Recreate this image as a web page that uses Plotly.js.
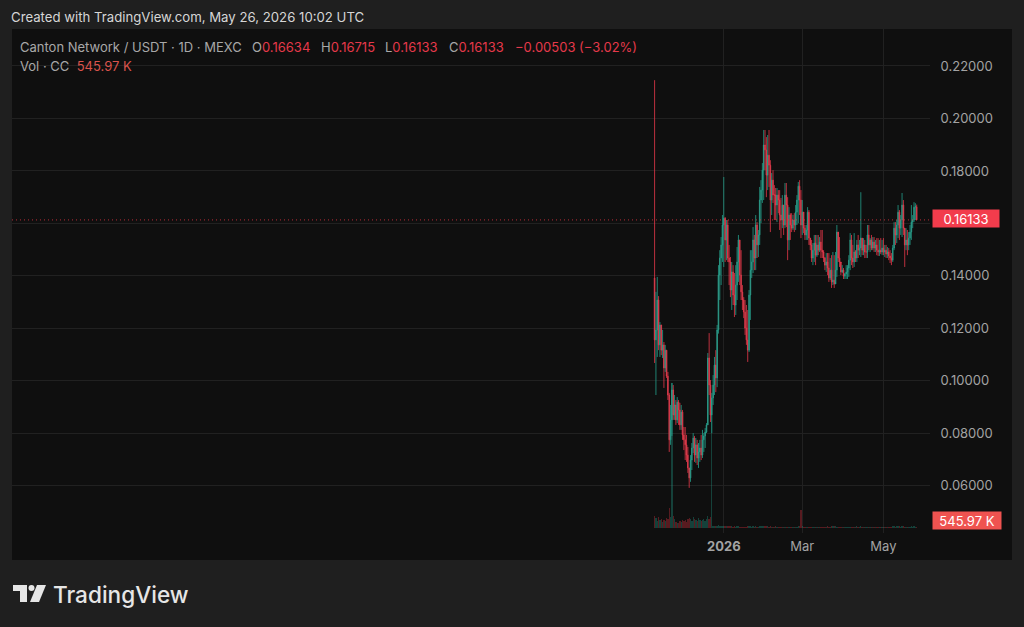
<!DOCTYPE html>
<html>
<head>
<meta charset="utf-8">
<script src="https://cdn.plot.ly/plotly-3.0.1.min.js"></script>
<style>
  html, body { margin: 0; padding: 0; background: #1f1f1f; }
  #chart { width: 1024px; height: 627px; }
</style>
</head>
<body>
<div id="chart"></div>
<script>
// daily candles, CC/USDT on MEXC
const firstDay = '2025-11-10';

const opens = [
  .1392,.1156,.1194,.1308,.1137,.1213,.1117,.1137,.1049,.1117,
  .1018,.0946,.0775,.0851,.0965,.0870,.0908,.0851,.0919,.0889,
  .0832,.0881,.0794,.0775,.0756,.0717,.0668,.0630,.0698,.0744,
  .0782,.0717,.0756,.0706,.0729,.0744,.0717,.0775,.0790,.0805,
  .0832,.1087,.0984,.0870,.0935,.0984,.1060,.1011,.1194,.1403,
  .1468,.1518,.1594,.1620,.1537,.1594,.1468,.1453,.1346,.1415,
  .1327,.1289,.1365,.1453,.1537,.1403,.1339,.1308,.1262,.1201,
  .1156,.1117,.1327,.1422,.1453,.1537,.1468,.1594,.1518,.1556,
  .1689,.1727,.1803,.1899,.1880,.1784,.1860,.1822,.1689,.1765,
  .1708,.1708,.1670,.1708,.1689,.1632,.1613,.1670,.1594,.1708,
  .1670,.1537,.1632,.1594,.1582,.1613,.1594,.1643,.1689,.1742,
  .1689,.1594,.1643,.1582,.1556,.1575,.1643,.1544,.1518,.1468,
  .1498,.1525,.1479,.1518,.1498,.1529,.1498,.1491,.1468,.1441,
  .1453,.1430,.1392,.1422,.1377,.1384,.1369,.1422,.1567,.1468,
  .1453,.1415,.1422,.1399,.1407,.1415,.1430,.1460,.1537,.1468,
  .1453,.1491,.1468,.1518,.1498,.1506,.1544,.1498,.1518,.1491,
  .1491,.1556,.1518,.1537,.1506,.1529,.1506,.1518,.1498,.1491,
  .1498,.1491,.1506,.1491,.1498,.1483,.1491,.1476,.1468,.1460,
  .1506,.1582,.1556,.1594,.1643,.1582,.1613,.1670,.1582,.1518,
  .1537,.1518,.1544,.1567,.1605,.1613,.16634,.16634
];
const highs = [
  .2146,.1339,.1396,.1323,.1224,.1213,.1194,.1148,.1137,.1117,
  .1034,.0954,.0908,.0992,.0984,.0946,.0927,.0938,.0927,.0916,
  .0908,.0889,.0824,.0824,.0794,.0748,.0660,.0717,.0763,.0801,
  .0790,.0782,.0775,.0763,.0775,.0794,.0813,.0801,.0820,.0839,
  .1106,.1182,.1003,.0954,.1022,.1091,.1117,.1213,.1441,.1498,
  .1548,.1632,.1777,.1624,.1613,.1613,.1518,.1472,.1453,.1441,
  .1411,.1441,.1510,.1556,.1537,.1498,.1365,.1319,.1308,.1289,
  .1270,.1346,.1498,.1498,.1586,.1556,.1632,.1605,.1575,.1739,
  .1765,.1830,.1956,.1956,.1929,.1937,.1956,.1841,.1792,.1803,
  .1746,.1735,.1735,.1727,.1727,.1697,.1708,.1670,.1754,.1754,
  .1700,.1662,.1639,.1639,.1632,.1639,.1670,.1708,.1758,.1765,
  .1727,.1689,.1639,.1594,.1594,.1662,.1651,.1544,.1537,.1525,
  .1556,.1556,.1556,.1556,.1548,.1575,.1575,.1498,.1472,.1487,
  .1487,.1487,.1468,.1479,.1491,.1479,.1491,.1594,.1556,.1548,
  .1449,.1441,.1430,.1411,.1441,.1441,.1479,.1563,.1556,.1518,
  .1563,.1498,.1537,.1556,.1537,.1719,.1544,.1544,.1537,.1518,
  .1594,.1594,.1544,.1556,.1548,.1548,.1537,.1544,.1544,.1537,
  .1544,.1537,.1544,.1518,.1518,.1510,.1506,.1498,.1487,.1518,
  .1605,.1605,.1613,.1670,.1651,.1632,.1716,.1689,.1575,.1582,
  .1575,.1567,.1594,.1670,.1632,.1681,.1677,.16715
];
const lows = [
  .1068,.0946,.1091,.1117,.1091,.1098,.1087,.0973,.1034,.1011,
  .0927,.0729,.0756,.0790,.0851,.0851,.0832,.0839,.0832,.0813,
  .0813,.0775,.0736,.0698,.0691,.0649,.0592,.0615,.0660,.0725,
  .0691,.0687,.0679,.0668,.0691,.0698,.0706,.0729,.0744,.0801,
  .0832,.0946,.0843,.0801,.0908,.0946,.0957,.0976,.1180,.1308,
  .1365,.1453,.1434,.1453,.1460,.1453,.1365,.1319,.1270,.1289,
  .1243,.1251,.1308,.1377,.1365,.1308,.1270,.1239,.1175,.1137,
  .1072,.1110,.1232,.1392,.1411,.1422,.1422,.1468,.1472,.1518,
  .1601,.1678,.1689,.1803,.1700,.1727,.1739,.1567,.1632,.1678,
  .1613,.1613,.1605,.1639,.1575,.1544,.1582,.1556,.1582,.1586,
  .1460,.1498,.1537,.1567,.1575,.1567,.1575,.1594,.1601,.1632,
  .1544,.1556,.1563,.1537,.1537,.1537,.1518,.1498,.1453,.1441,
  .1453,.1441,.1472,.1479,.1491,.1468,.1468,.1453,.1422,.1415,
  .1403,.1377,.1384,.1354,.1365,.1354,.1377,.1396,.1453,.1434,
  .1403,.1411,.1388,.1388,.1388,.1388,.1396,.1422,.1441,.1430,
  .1434,.1453,.1453,.1468,.1479,.1472,.1479,.1479,.1468,.1468,
  .1468,.1498,.1491,.1498,.1498,.1491,.1491,.1479,.1476,.1476,
  .1483,.1479,.1479,.1472,.1468,.1468,.1460,.1449,.1441,.1453,
  .1498,.1518,.1525,.1544,.1537,.1556,.1548,.1556,.1434,.1498,
  .1479,.1498,.1518,.1537,.1582,.1605,.1613,.16133
];
const closes = [
  .1156,.1194,.1308,.1137,.1213,.1117,.1137,.1049,.1117,.1018,
  .0946,.0775,.0851,.0965,.0870,.0908,.0851,.0919,.0889,.0832,
  .0881,.0794,.0775,.0756,.0717,.0668,.0630,.0698,.0744,.0782,
  .0717,.0756,.0706,.0729,.0744,.0717,.0775,.0790,.0805,.0832,
  .1087,.0984,.0870,.0935,.0984,.1060,.1011,.1194,.1403,.1468,
  .1518,.1594,.1620,.1537,.1594,.1468,.1453,.1346,.1415,.1327,
  .1289,.1365,.1453,.1537,.1403,.1339,.1308,.1262,.1201,.1156,
  .1117,.1327,.1422,.1453,.1537,.1468,.1594,.1518,.1556,.1689,
  .1727,.1803,.1899,.1880,.1784,.1860,.1822,.1689,.1765,.1708,
  .1708,.1670,.1708,.1689,.1632,.1613,.1670,.1594,.1708,.1670,
  .1537,.1632,.1594,.1582,.1613,.1594,.1643,.1689,.1742,.1689,
  .1594,.1643,.1582,.1556,.1575,.1643,.1544,.1518,.1468,.1498,
  .1525,.1479,.1518,.1498,.1529,.1498,.1491,.1468,.1441,.1453,
  .1430,.1392,.1422,.1377,.1384,.1369,.1422,.1567,.1468,.1453,
  .1415,.1422,.1399,.1407,.1415,.1430,.1460,.1537,.1468,.1453,
  .1491,.1468,.1518,.1498,.1506,.1544,.1498,.1518,.1491,.1491,
  .1556,.1518,.1537,.1506,.1529,.1506,.1518,.1498,.1491,.1498,
  .1491,.1506,.1491,.1498,.1483,.1491,.1476,.1468,.1460,.1506,
  .1582,.1556,.1594,.1643,.1582,.1613,.1670,.1582,.1518,.1537,
  .1518,.1544,.1567,.1605,.1613,.1662,.16634,.16133
];
// volume in thousands
const volumes = [
  4300,3600,2500,4000,2900,3300,2200,3000,2500,3600,
  3300,7300,4000,52700,4400,3300,2200,2000,1800,2500,
  2200,2900,2500,2900,2200,3300,3600,3300,2500,4000,
  3300,2900,2500,3600,2900,2500,2900,3300,2500,3300,
  4400,3300,4000,46500,900,800,700,800,1000,600,
  700,900,800,700,600,800,900,700,600,500,
  600,500,600,700,500,400,500,400,400,500,
  600,800,600,500,700,500,600,400,500,600,
  900,800,700,900,600,700,500,600,500,400,
  500,600,400,500,400,500,400,500,400,500,
  400,500,400,300,400,300,400,500,600,900,
  6500,900,500,400,300,400,500,400,300,400,
  300,400,300,400,500,300,400,300,500,400,
  600,500,400,600,700,600,800,500,400,300,
  400,300,400,300,400,500,400,300,500,400,
  300,400,600,500,400,600,300,400,300,400,
  500,400,300,400,300,400,300,400,300,400,
  300,400,300,400,300,400,300,400,500,600,
  700,500,600,800,600,500,900,600,500,400,
  500,400,500,700,500,600,500,545.97
];

const yTicks = [0.06, 0.08, 0.10, 0.12, 0.14, 0.16, 0.18, 0.20, 0.22];
// 0.16 sits behind the last price tag in the picture, only its grid line shows
const yTickText = ['0.06000', '0.08000', '0.10000', '0.12000', '0.14000', '', '0.18000', '0.20000', '0.22000'];
const xTickDates = ['2026-01-01', '2026-03-01', '2026-05-01'];
const xTickText = ['<b>2026</b>', 'Mar', 'May'];

const days = closes.map(function(c, i) {
    const d = new Date(firstDay + 'T00:00:00Z');
    d.setUTCDate(d.getUTCDate() + i);
    return d.toISOString().slice(0, 10);
});

const UP = '#24a08c';
const DOWN = '#e8394a';
const last = closes.length - 1;

// plot box inside the 1024x627 page
const L = 12, R = 930, T = 29, B = 533;
function px(x) { return (x - L) / (R - L); }
function py(y) { return (B - y) / (B - T); }

function label(x, y, text, size, color, extra) {
    return Object.assign({
        xref: 'paper', yref: 'paper', x: px(x), y: py(y),
        xanchor: 'left', yanchor: 'middle', showarrow: false,
        text: text, font: {family: 'Inter, Roboto, sans-serif', size: size, color: color}
    }, extra || {});
}

function box(x0, y0, x1, y1, color) {
    return {
        type: 'rect', xref: 'paper', yref: 'paper', layer: 'below',
        x0: px(x0), x1: px(x1), y0: py(y0), y1: py(y1),
        fillcolor: color, line: {width: 0}
    };
}

function logoPath(points) {
    return {
        type: 'path', xref: 'paper', yref: 'paper', fillcolor: '#e6e6e6', line: {width: 0},
        path: 'M' + points.map(function(p) { return px(p[0]) + ',' + py(p[1]); }).join('L') + 'Z'
    };
}

function redText(s) { return '<span style="color:#e5394a">' + s + '</span>'; }

const traces = [
    {
        type: 'candlestick', x: days, open: opens, high: highs, low: lows, close: closes,
        increasing: {line: {color: UP, width: 0.8}, fillcolor: '#6f8f8a'},
        decreasing: {line: {color: DOWN, width: 0.8}, fillcolor: '#b0606a'},
        whiskerwidth: 0, hoverinfo: 'skip', showlegend: false
    },
    {
        type: 'bar', x: days, y: volumes, yaxis: 'y2', showlegend: false, hoverinfo: 'skip',
        marker: {
            color: closes.map(function(c, i) {
                return c >= opens[i] ? 'rgba(34,171,148,0.32)' : 'rgba(242,54,69,0.32)';
            }),
            line: {width: 0}
        }
    }
];

const layout = {
    width: 1024, height: 627,
    margin: {l: L, r: 1024 - R, t: T, b: 627 - B, pad: 0},
    paper_bgcolor: '#1f1f1f',
    plot_bgcolor: 'rgba(0,0,0,0)',
    bargap: 0,
    xaxis: {
        type: 'date',
        range: ['2024-07-15', '2026-06-05'],
        rangeslider: {visible: false},
        tickmode: 'array', tickvals: xTickDates, ticktext: xTickText,
        tickfont: {family: 'Inter, Roboto, sans-serif', size: 13, color: '#a3a3a3'},
        ticks: 'outside', ticklen: 1, tickcolor: 'rgba(0,0,0,0)',
        showgrid: true, gridcolor: '#212121', gridwidth: 1,
        zeroline: false, showline: false, fixedrange: true
    },
    yaxis: {
        side: 'right',
        range: [0.0420, 0.2341],
        tickmode: 'array', tickvals: yTicks, ticktext: yTickText,
        tickfont: {family: 'Inter, Roboto, sans-serif', size: 13, color: '#a3a3a3'},
        ticks: 'outside', ticklen: 7, tickcolor: 'rgba(0,0,0,0)',
        showgrid: true, gridcolor: '#212121', gridwidth: 1,
        zeroline: false, showline: false, fixedrange: true
    },
    yaxis2: {
        overlaying: 'y', side: 'right', visible: false,
        range: [-1820, 181636], fixedrange: true
    },
    shapes: [
        box(12, 29, 1012, 560, '#0f0f0f'),
        {
            type: 'line', xref: 'paper', yref: 'y', x0: 0, x1: 1,
            y0: closes[last], y1: closes[last],
            line: {color: 'rgba(242,54,69,0.75)', width: 1, dash: '1px,3px'}
        },
        logoPath([[13, 585], [27, 585], [27, 602], [20, 602], [20, 591], [13, 591]]),
        {
            type: 'circle', xref: 'paper', yref: 'paper', fillcolor: '#e6e6e6', line: {width: 0},
            x0: px(28.5), x1: px(34.5), y0: py(591), y1: py(585)
        },
        logoPath([[37, 585], [46, 585], [39, 602], [30, 602]])
    ],
    annotations: [
        label(9, 17, 'Created with TradingView.com, May 26, 2026 10:02 UTC', 13.2, '#d6d6d6'),
        label(18, 47, 'Canton Network / USDT · 1D · MEXC', 13, '#a8a8a8'),
        label(250, 47, 'O' + redText('0.16634'), 13, '#a8a8a8'),
        label(319, 47, 'H' + redText('0.16715'), 13, '#a8a8a8'),
        label(383, 47, 'L' + redText('0.16133'), 13, '#a8a8a8'),
        label(447, 47, 'C' + redText('0.16133'), 13, '#a8a8a8'),
        label(513, 47, redText('−0.00503 (−3.02%)'), 13, '#a8a8a8'),
        label(18, 66, 'Vol · CC  <span style="color:#d9534c">545.97 K</span>', 13, '#a8a8a8'),
        label(932, 218.5, closes[last].toFixed(5), 13, '#ffffff', {
            bgcolor: '#f23c4c', width: 66, height: 17, align: 'center', borderpad: 0
        }),
        label(932, 520.5, '545.97 K', 13, '#ffffff', {
            bgcolor: '#ef5350', width: 68, height: 17, align: 'center', borderpad: 0
        }),
        label(51, 594, 'TradingView', 22.6, '#e6e6e6', {
            font: {family: 'Inter, Roboto, sans-serif', size: 22.6, color: '#e6e6e6', weight: 500}
        })
    ]
};

Plotly.newPlot('chart', traces, layout, {displayModeBar: false, staticPlot: true});
</script>
</body>
</html>
